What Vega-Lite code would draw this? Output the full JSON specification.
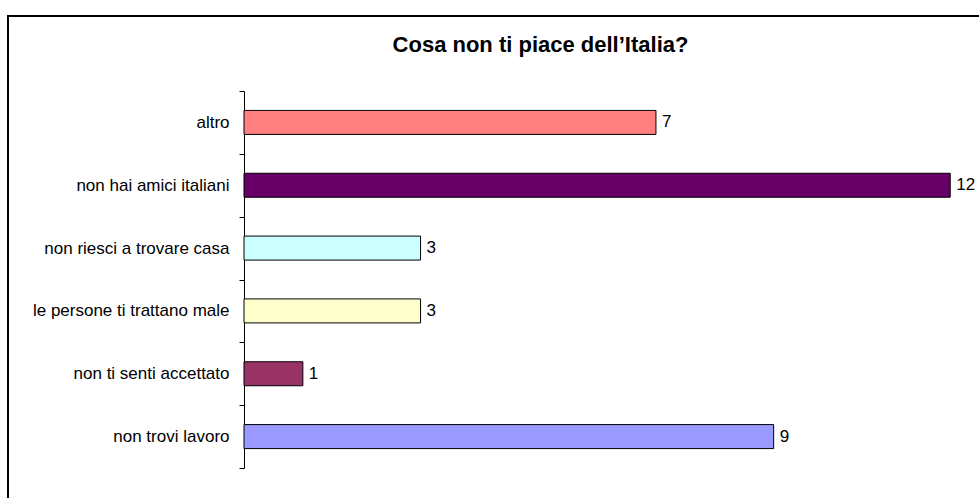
{
  "$schema": "https://vega.github.io/schema/vega-lite/v6.json",
  "autosize": "none",
  "padding": {"left": 8, "top": 16, "right": -4, "bottom": -4},
  "width": 975,
  "height": 486,
  "background": "white",
  "title": {
    "text": "Cosa non ti piace dell’Italia?",
    "font": "Liberation Sans",
    "fontSize": 22,
    "fontWeight": "bold",
    "color": "black",
    "anchor": "middle",
    "frame": "group",
    "offset": -50,
    "dx": 45
  },
  "config": {
    "view": {"stroke": "black", "strokeWidth": 2},
    "font": "Liberation Sans"
  },
  "data": {
    "values": [
      {"categoria": "altro", "valore": 7, "colore": "#FF8080"},
      {"categoria": "non hai amici italiani", "valore": 12, "colore": "#660066"},
      {"categoria": "non riesci a trovare casa", "valore": 3, "colore": "#CCFFFF"},
      {"categoria": "le persone ti trattano male", "valore": 3, "colore": "#FFFFCC"},
      {"categoria": "non ti senti accettato", "valore": 1, "colore": "#993366"},
      {"categoria": "non trovi lavoro", "valore": 9, "colore": "#9999FF"}
    ]
  },
  "encoding": {
    "y": {
      "field": "categoria",
      "type": "nominal",
      "sort": null,
      "scale": {"range": [75, 452], "paddingInner": 0, "paddingOuter": 0},
      "axis": {
        "title": null,
        "offset": -236,
        "domainColor": "black",
        "domainWidth": 1,
        "tickColor": "black",
        "tickWidth": 1,
        "tickSize": 5,
        "tickBand": "extent",
        "labelFont": "Liberation Sans",
        "labelFontSize": 17,
        "labelColor": "black",
        "labelPadding": 10,
        "labelLimit": 400
      }
    }
  },
  "layer": [
    {
      "mark": {"type": "bar", "size": 24, "stroke": "black", "strokeWidth": 1},
      "encoding": {
        "x": {
          "field": "valore",
          "type": "quantitative",
          "scale": {"domain": [-4.0102, 12.557], "nice": false, "zero": false},
          "axis": null
        },
        "x2": {"datum": 0},
        "fill": {"field": "colore", "type": "nominal", "scale": null}
      }
    },
    {
      "mark": {"type": "text", "align": "left", "baseline": "middle", "dx": 6, "fontSize": 17, "font": "Liberation Sans", "color": "black"},
      "encoding": {
        "x": {"field": "valore", "type": "quantitative"},
        "text": {"field": "valore", "type": "quantitative"}
      }
    }
  ]
}
